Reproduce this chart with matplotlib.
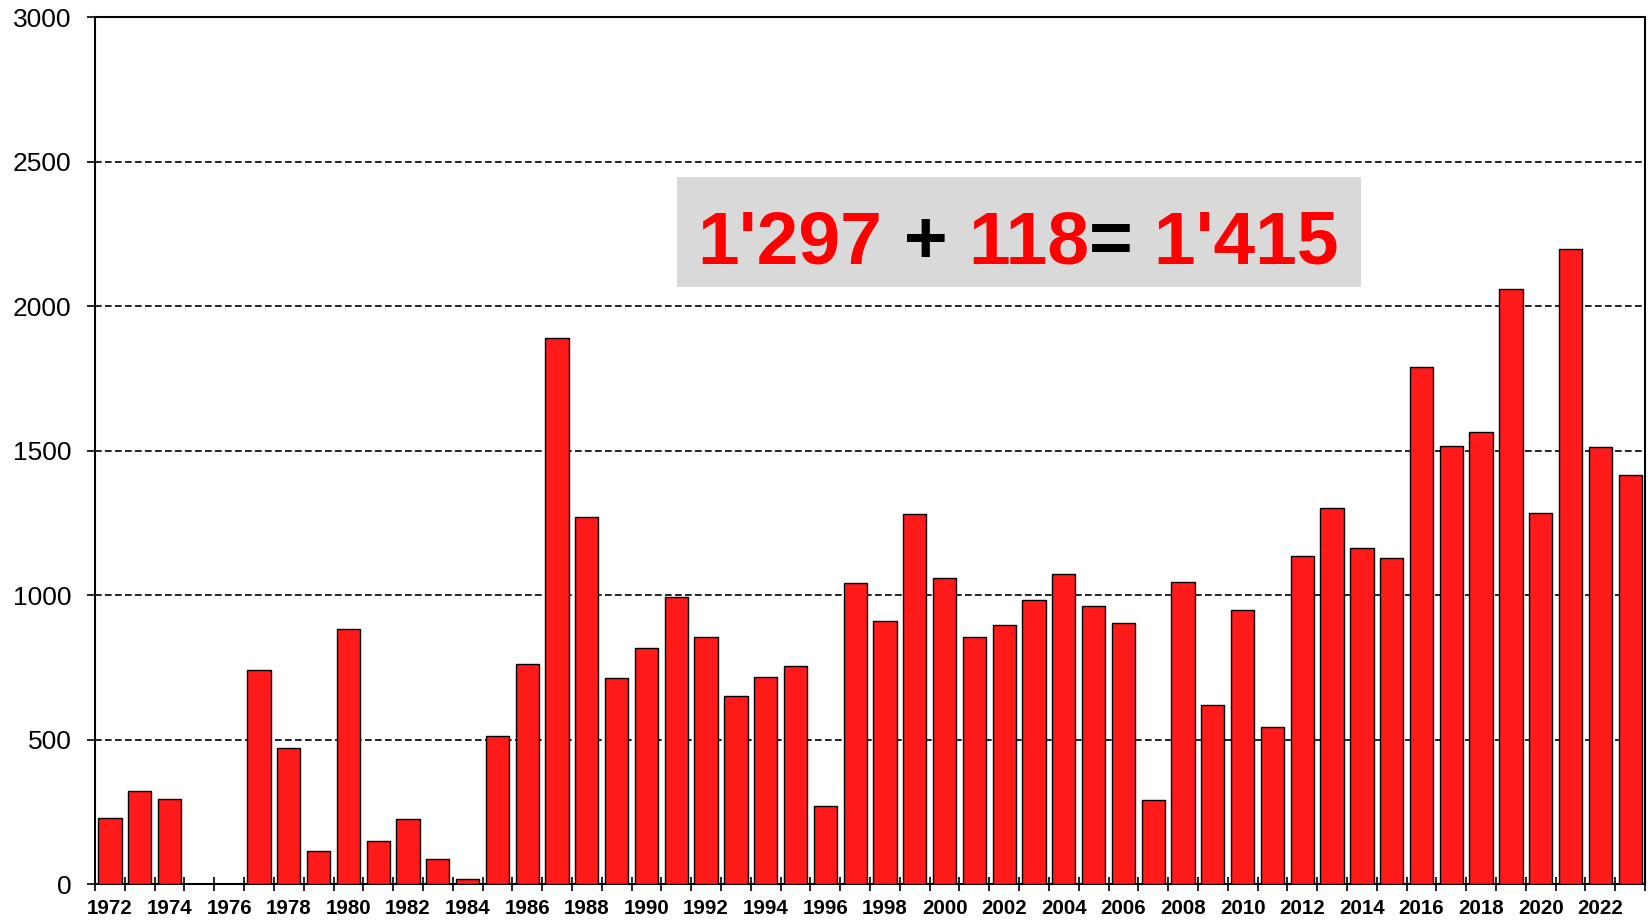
import numpy as np
import matplotlib.pyplot as plt
from matplotlib.patches import Rectangle

plt.rcParams['font.family'] = ['Liberation Sans', 'DejaVu Sans']

years = list(range(1972, 2024))
values = [229, 324, 293, 0, 0, 740, 471, 114, 884, 149, 226, 88, 17, 512, 762,
          1891, 1271, 713, 816, 995, 855, 650, 718, 755, 271, 1043, 911, 1279,
          1060, 855, 896, 984, 1074, 962, 904, 290, 1047, 621, 950, 544, 1137,
          1301, 1162, 1128, 1789, 1516, 1566, 2058, 1284, 2197, 1512, 1415]
label_years = [y for y in years if y % 2 == 0]

fig = plt.figure(figsize=(16.5, 9.21), dpi=100)
ax = fig.add_axes([0.0576, 0.040, 0.9394, 0.9415])

x = np.arange(len(years))
ax.bar(x, values, width=0.78, color='#ff1a1a', edgecolor='black', linewidth=1.0, zorder=3)

ax.set_xlim(-0.5, len(years) - 0.5)
ax.set_ylim(0, 3000)

# y axis
ax.set_yticks(np.arange(0, 3001, 500))
ax.tick_params(axis='y', direction='out', length=6, width=1.2, labelsize=19, pad=11)
for g in range(500, 3000, 500):
    ax.axhline(g, color='black', linestyle=(0, (4, 2)), linewidth=1.2, zorder=2)

# x axis: ticks between bars, labels under even years
ax.set_xticks([years.index(y) for y in label_years])
ax.set_xticklabels([str(y) for y in label_years], fontsize=14.8, fontweight='bold')
ax.tick_params(axis='x', which='major', length=0, pad=11)
ax.set_xticks(np.arange(-0.5, len(years), 1.0), minor=True)
ax.tick_params(axis='x', which='minor', direction='inout', length=10, width=1.2)

for s in ax.spines.values():
    s.set_linewidth(1.5)
    s.set_color('black')

# annotation box
ax.add_patch(Rectangle((0.3755, 0.6886), 0.4413, 0.1269, transform=ax.transAxes,
                       facecolor='#d9d9d9', edgecolor='none', zorder=4))
parts = [("1'297", 'red'), (' + ', 'black'), ('118', 'red'), ('=', 'black'), (" 1'415", 'red')]
prev = ax.text(0.3888, 0.7163, parts[0][0], transform=ax.transAxes, color=parts[0][1],
               fontsize=54, fontweight='bold', va='baseline', ha='left', zorder=5)
for txt, col in parts[1:]:
    prev = ax.annotate(txt, xy=(1, 0), xycoords=prev, va='bottom', ha='left',
                       color=col, fontsize=54, fontweight='bold', zorder=5)

fig.savefig('out.png', dpi=100)
